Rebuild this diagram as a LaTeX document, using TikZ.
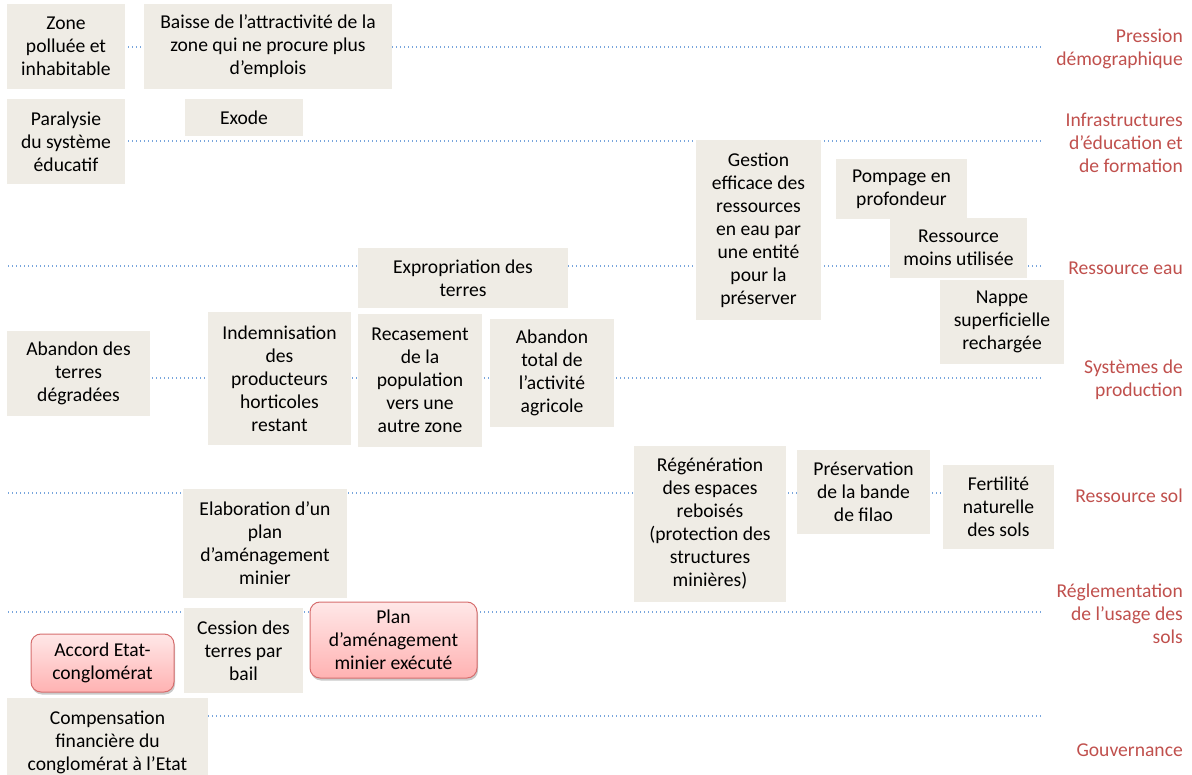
\documentclass[tikz,border=0pt]{standalone}
\usepackage{fontspec}
\setmainfont{Carlito}
\usetikzlibrary{shadows}
\definecolor{boxfill}{RGB}{239,236,229}
\definecolor{lanered}{RGB}{192,80,77}
\definecolor{dotblue}{RGB}{120,165,220}
\definecolor{pinktop}{RGB}{255,232,232}
\definecolor{pinkbot}{RGB}{255,178,178}
\definecolor{pinkdraw}{RGB}{214,110,110}
\tikzset{
  box/.style={fill=boxfill, draw=none, align=center, inner sep=0pt, font=\fontsize{19.6}{23}\selectfont},
  redbox/.style={draw=pinkdraw, line width=1pt, rounded corners=10pt, top color=pinktop, bottom color=pinkbot,
     drop shadow={shadow xshift=1pt, shadow yshift=-2.5pt, opacity=0.35, fill=black!60},
     align=center, inner sep=0pt, font=\fontsize{19.6}{23}\selectfont},
  lane/.style={text=lanered, align=right, anchor=east, inner sep=0pt, font=\fontsize{19.6}{23}\selectfont},
  guide/.style={draw=dotblue, line width=1.3pt, dash pattern=on 1.3pt off 2.7pt},
}
\begin{document}
\begin{tikzpicture}[x=1pt,y=-1pt]
\useasboundingbox (0,0) rectangle (1192,775);
% guide lines
\foreach \yy/\nm in {47/pd,141/ie,266/re,378/sp,493/rs,612/ru,716/gv}{
  \coordinate (\nm-a) at (8,\yy);
  \coordinate (\nm-b) at (1042,\yy);
  \draw[guide] (\nm-a) -- (\nm-b);
}
% lane labels
\node[lane] (Lpd) at (1183,49) {Pression\\démographique};
\node[lane] (Lie) at (1183,143) {Infrastructures\\d’éducation et\\de formation};
\node[lane] (Lre) at (1183,268) {Ressource eau};
\node[lane] (Lsp) at (1183,380) {Systèmes de\\production};
\node[lane] (Lrs) at (1183,496) {Ressource sol};
\node[lane] (Lru) at (1183,614) {Réglementation\\de l’usage des\\sols};
\node[lane] (Lgv) at (1183,750) {Gouvernance};
% boxes
\node[box, minimum width=118, minimum height=85] (zone) at (66,46.5) {Zone\\polluée et\\inhabitable};
\node[box, minimum width=248, minimum height=85] (baisse) at (268,46.5) {Baisse de l’attractivité de la\\zone qui ne procure plus\\d’emplois};
\node[box, minimum width=118, minimum height=85] (paral) at (66,141.5) {Paralysie\\du système\\éducatif};
\node[box, minimum width=118, minimum height=37] (exode) at (244,117.5) {Exode};
\node[box, minimum width=125, minimum height=180] (gestion) at (758.5,230) {Gestion\\efficace des\\ressources\\en eau par\\une entité\\pour la\\préserver};
\node[box, minimum width=131, minimum height=60] (pompage) at (901.5,189) {Pompage en\\profondeur};
\node[box, minimum width=137, minimum height=60] (moins) at (958.5,248) {Ressource\\moins utilisée};
\node[box, minimum width=124, minimum height=84] (nappe) at (1002,322) {Nappe\\superficielle\\rechargée};
\node[box, minimum width=210, minimum height=60] (expro) at (463,278) {Expropriation des\\terres};
\node[box, minimum width=143, minimum height=85] (abterres) at (78.5,373.5) {Abandon des\\terres\\dégradées};
\node[box, minimum width=143, minimum height=133] (indem) at (279.5,378.5) {Indemnisation\\des\\producteurs\\horticoles\\restant};
\node[box, minimum width=124, minimum height=133] (recas) at (420,380.5) {Recasement\\de la\\population\\vers une\\autre zone};
\node[box, minimum width=124, minimum height=108] (abtotal) at (552,373) {Abandon\\total de\\l’activité\\agricole};
\node[box, minimum width=152, minimum height=156] (regen) at (710,524) {Régénération\\des espaces\\reboisés\\(protection des\\structures\\minières)};
\node[box, minimum width=133, minimum height=84] (preserv) at (863.5,492) {Préservation\\de la bande\\de filao};
\node[box, minimum width=111, minimum height=84] (fert) at (998.5,507) {Fertilité\\naturelle\\des sols};
\node[box, minimum width=164, minimum height=109] (elab) at (265,543.5) {Elaboration d’un\\plan\\d’aménagement\\minier};
\node[box, minimum width=119, minimum height=85] (cession) at (243.5,650.5) {Cession des\\terres par\\bail};
\node[redbox, minimum width=167, minimum height=76] (planex) at (393.5,640) {Plan\\d’aménagement\\minier exécuté};
\node[redbox, minimum width=143, minimum height=58] (accord) at (102.5,663) {Accord Etat-\\conglomérat};
\node[box, minimum width=201, minimum height=88] (comp) at (107.5,742) {Compensation\\financière du\\conglomérat à l’Etat};
\end{tikzpicture}
\end{document}
